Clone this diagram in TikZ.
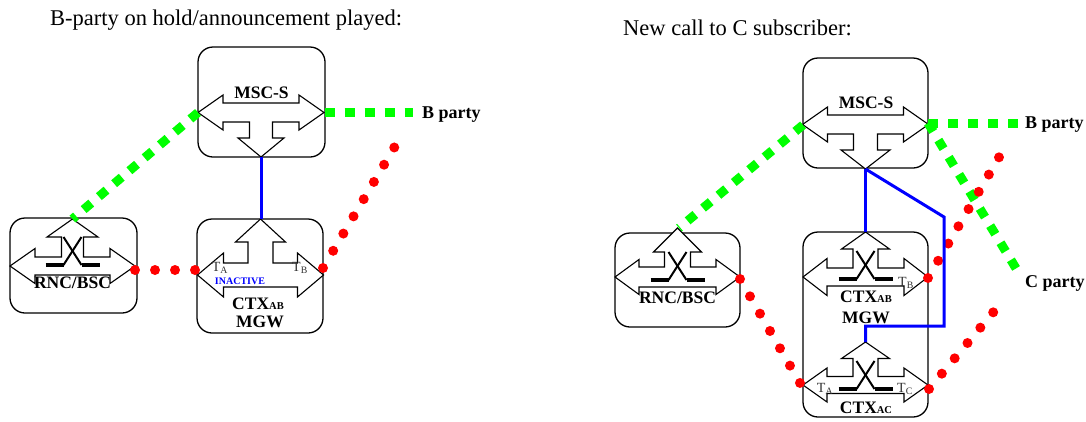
\documentclass[tikz,border=0pt]{standalone}
\usepackage{fontspec}
\setmainfont{Liberation Serif}
\newcommand\TArrow[9]{%
 \begin{scope}[#1]
 \draw[ashape] (-#2,0) -- ({-#2+#3},{-#4}) -- ({-#2+#3},{-#5}) -- ({-#6},{-#5}) -- ({-#6},{-#5-#7}) -- ({-#8},{-#5-#7}) -- (0,{-#5-#7-#9}) -- (#8,{-#5-#7}) -- (#6,{-#5-#7}) -- (#6,{-#5}) -- ({#2-#3},{-#5}) -- ({#2-#3},{-#4}) -- (#2,0) -- ({#2-#3},#4) -- ({#2-#3},#5) -- ({-#2+#3},#5) -- ({-#2+#3},#4) -- cycle;
 \end{scope}}
\newcommand\SwitchSym[1]{%
 \begin{scope}[shift={#1}]
 \draw[xline] (-9,-28) -- (9,0);
 \draw[xline] (9,-28) -- (-9,0);
 \draw[barline] (-27,0) -- (-9,0);
 \draw[barline] (9,0) -- (27,0);
 \end{scope}}
\begin{document}
\begin{tikzpicture}[x=1pt,y=-1pt,
  box/.style={draw, line width=1.3pt, rounded corners=15pt, inner sep=0pt},
  ashape/.style={draw, line width=1.1pt, fill=white, line join=miter},
  xline/.style={line width=2pt},
  barline/.style={line width=3.4pt},
  gline/.style={draw={rgb,255:red,0;green,255;blue,0}, line width=9pt, dash pattern=on 10pt off 10pt},
  rline/.style={draw=red, line width=10pt, line cap=round, dash pattern=on 0pt off 20pt},
  bline/.style={draw=blue, line width=3pt},
  lbl/.style={font=\fontsize{17.5}{20}\selectfont\bfseries, inner sep=0pt},
  plbl/.style={font=\fontsize{18}{21}\selectfont\bfseries, inner sep=0pt, anchor=west},
  tlbl/.style={font=\fontsize{14}{16}\selectfont, text=black!80, inner sep=0pt},
  ttl/.style={font=\fontsize{22.5}{26}\selectfont, anchor=west, inner sep=0pt}]
\useasboundingbox (0,0) rectangle (1086,421);

% titles
\node[ttl] (title1) at (50,20) {B-party on hold/announcement played:};
\node[ttl] (title2) at (623,28) {New call to C subscriber:};

% ---------- left panel ----------
\node[box, minimum width=127pt, minimum height=110pt] (msc1) at (261.5,102) {};
\TArrow{shift={(261,112.5)},yscale=-1}{63}{25}{17.5}{9.5}{11.5}{16}{23}{19}
\node[lbl] (msc1t) at (261.5,93) {MSC-S};

\node[box, minimum width=127pt, minimum height=95pt] (rnc1) at (73.5,265.5) {};
\TArrow{shift={(72.5,266)}}{62.5}{25}{17.5}{9}{11}{20}{25.5}{18}
\SwitchSym{(72.5,265)}
\node[lbl] (rnc1t) at (72.5,283) {RNC/BSC};

\node[box, minimum width=126pt, minimum height=114pt] (ctx1) at (260,276) {};
\TArrow{shift={(260.5,275)}}{63}{26}{22}{12}{12.5}{21}{25}{23}
\node[tlbl] (ta1) at (220,268) {T\textsubscript{A}};
\node[tlbl] (tb1) at (300,268) {T\textsubscript{B}};
\node[font=\fontsize{10}{12}\selectfont\bfseries, text=blue, inner sep=0pt] (inact) at (240,281) {INACTIVE};
\node[lbl] (ctx1t) at (258,304) {CTX{\fontsize{10.5}{12}\selectfont AB}};
\node[lbl] (mgw1t) at (260,322) {MGW};

\node[plbl] (bp1) at (422,115) {B party};

\coordinate (msc1W) at (198,112.5);
\coordinate (msc1E) at (324.5,112.5);
\coordinate (msc1S) at (261,157);
\coordinate (rnc1N) at (72.5,219);
\coordinate (rnc1E) at (135,270);
\coordinate (ctx1N) at (261,219);
\coordinate (ctx1W) at (200,270);
\coordinate (ctx1E) at (323,268);
\coordinate (gB1) at (413,112.5);
\coordinate (rB1) at (404,131);

\draw[gline] (msc1W) -- (rnc1N);
\draw[gline] (msc1E) -- (gB1);
\draw[rline] (rnc1E) -- (ctx1W);
\draw[rline] (ctx1E) -- (rB1);
\draw[bline] (msc1S) -- (ctx1N);

% ---------- right panel ----------
\node[box, minimum width=125pt, minimum height=110pt] (msc2) at (865.5,113) {};
\TArrow{shift={(865.5,124.5)},yscale=-1}{63}{25}{17.5}{9.5}{12}{16}{24.5}{19}
\node[lbl] (msc2t) at (866,103) {MSC-S};

\node[box, minimum width=125pt, minimum height=94pt] (rnc2) at (677.5,280) {};
\TArrow{shift={(677.5,277)}}{62.5}{24}{17.5}{10}{13}{15}{24}{24}
\SwitchSym{(677.5,280)}
\node[lbl] (rnc2t) at (677.5,298) {RNC/BSC};

\node[box, minimum width=125pt, minimum height=185pt] (mgw2) at (865.5,324.5) {};
\TArrow{shift={(865.5,277)}}{62.5}{24}{18.5}{9}{12.5}{19}{24}{17}
\SwitchSym{(865.5,279)}
\TArrow{shift={(865.5,385)}}{62.5}{24}{17}{8.5}{12.5}{18}{24}{16.5}
\SwitchSym{(865.5,389)}
\node[tlbl] (tb2) at (906,283) {T\textsubscript{B}};
\node[lbl] (ctxab2t) at (866,297) {CTX{\fontsize{10.5}{12}\selectfont AB}};
\node[lbl] (mgw2t) at (866,318) {MGW};
\node[tlbl] (ta2) at (825,389) {T\textsubscript{A}};
\node[tlbl] (tc2) at (905,389) {T\textsubscript{C}};
\node[lbl] (ctxac2t) at (866,408) {CTX{\fontsize{10.5}{12}\selectfont AC}};

\node[plbl] (bp2) at (1025,125) {B party};
\node[plbl] (cp2) at (1025,283) {C party};

\coordinate (msc2W) at (803,125);
\coordinate (msc2E) at (928,123);
\coordinate (msc2S) at (865.5,169);
\coordinate (gB2) at (1018,123);
\coordinate (gC2) at (1017,270);
\coordinate (rB2) at (1008,142);
\coordinate (rC2) at (1006,297);
\coordinate (rnc2N) at (679,228);
\coordinate (rnc2E) at (740,279);
\coordinate (ab2N) at (865.5,232);
\coordinate (ab2E) at (928,278);
\coordinate (ac2N) at (865.5,342);
\coordinate (ac2W) at (800,383);
\coordinate (ac2E) at (929,389);
\coordinate (bk1) at (944,217);
\coordinate (bk2) at (944,326);
\coordinate (bk3) at (865.5,326);

\draw[gline] (msc2W) -- (rnc2N);
\draw[gline] (msc2E) -- (gB2);
\draw[gline] (msc2E) -- (gC2);
\draw[rline] (ab2E) -- (rB2);
\draw[rline] (ac2E) -- (rC2);
\draw[rline] (rnc2E) -- (ac2W);
\draw[bline] (msc2S) -- (ab2N);
\draw[bline, line join=miter] (msc2S) -- (bk1) -- (bk2) -- (bk3) -- (ac2N);
\end{tikzpicture}
\end{document}
